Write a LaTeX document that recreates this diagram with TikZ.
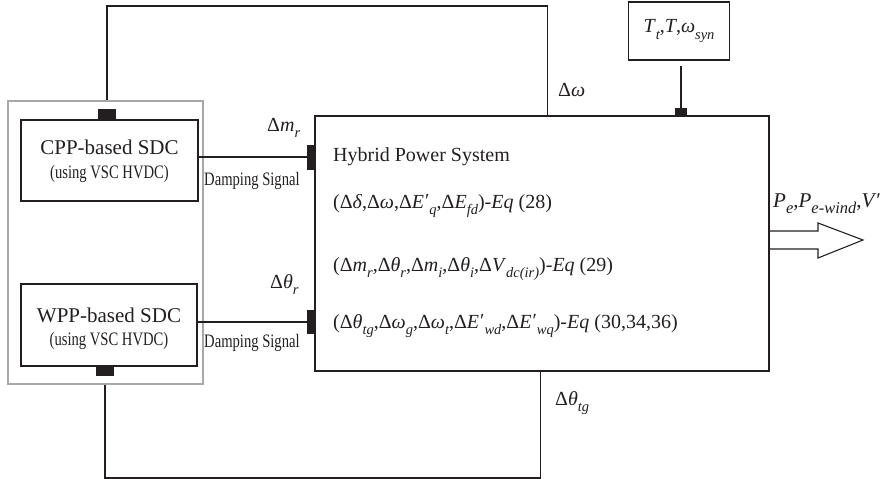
\documentclass[tikz,border=0pt]{standalone}
\usepackage{fontspec}
\setmainfont{Liberation Serif}
\newfontfamily\condfont[FakeStretch=0.77]{Liberation Serif}
\usetikzlibrary{calc}
\definecolor{ink}{HTML}{231F20}
\definecolor{frame}{HTML}{A8A8A8}
\newcommand\sbs[1]{\raisebox{-0.32em}{\fontsize{14.5}{14}\selectfont\itshape #1}}
\newcommand\sbb[1]{\raisebox{-0.32em}{\fontsize{16.5}{16}\selectfont\itshape #1}}
\newcommand\pr{\kern0.05em\raisebox{0.05em}{′}}
\begin{document}
\begin{tikzpicture}[x=1pt,y=-1pt,font=\fontsize{20}{24}\selectfont,
  block/.style={draw=ink,line width=1.2pt,inner sep=0pt,text=ink},
  port/.style={fill=ink,draw=none,inner sep=0pt},
  wire/.style={draw=ink,line width=1.1pt},
  sigwire/.style={draw=ink,line width=1.8pt},
  lbl/.style={text=ink,inner sep=0pt},
  big/.style={text=ink,inner sep=0pt,font=\fontsize{21}{24}\selectfont},
  cond/.style={text=ink,inner sep=0pt,font=\condfont\fontsize{19}{20}\selectfont}]
\useasboundingbox (0,0) rectangle (887,479);

% outer grey frame
\node[draw=frame,line width=1.4pt,minimum width=195pt,minimum height=283pt,inner sep=0pt] (outer) at (105.5,242.5) {};

% blocks
\node[block,minimum width=177pt,minimum height=81pt] (cpp) at (109.5,160.5) {};
\node[big,anchor=base] (cppt) at (109.5,154) {CPP-based SDC};
\node[cond,anchor=base] (cpps) at (109.5,178) {(using VSC HVDC)};

\node[block,minimum width=176pt,minimum height=82pt] (wpp) at (109,325) {};
\node[big,anchor=base] (wppt) at (109,322) {WPP-based SDC};
\node[cond,anchor=base] (wpps) at (109,345) {(using VSC HVDC)};

\node[block,minimum width=454pt,minimum height=255pt] (hps) at (542,243.5) {};
\node[lbl,anchor=base west] (h0) at (333,161) {Hybrid Power System};
\node[lbl,anchor=base west] (h1) at (333,208) {(Δ\textit{δ},Δ\textit{ω},Δ\textit{E}\pr\sbs{q},Δ\textit{E}\sbs{fd})-\textit{Eq} (28)};
\node[lbl,anchor=base west] (h2) at (333,271) {(Δ\textit{m}\sbs{r},Δ\textit{θ}\sbs{r},Δ\textit{m}\sbs{i},Δ\textit{θ}\sbs{i},Δ\textit{V}\sbs{dc(ir)})-\textit{Eq} (29)};
\node[lbl,anchor=base west] (h3) at (333,328) {(Δ\textit{θ}\sbs{tg},Δ\textit{ω}\sbs{g},Δ\textit{ω}\sbs{t},Δ\textit{E}\pr\sbs{wd},Δ\textit{E}\pr\sbs{wq})-\textit{Eq} (30,34,36)};

\node[block,minimum width=101pt,minimum height=58pt] (tbox) at (679,31) {\textit{T}\sbs{t},\textit{T},\textit{ω}\sbs{syn}};

% ports
\node[port,minimum width=18pt,minimum height=11pt,anchor=south] (cppq) at (107,120) {};
\node[port,minimum width=18pt,minimum height=10pt,anchor=north] (wppq) at (105,366) {};
\node[port,minimum width=8pt,minimum height=25pt,anchor=east] (hq1) at (315,157) {};
\node[port,minimum width=8pt,minimum height=24pt,anchor=east] (hq2) at (315,322) {};
\node[port,minimum width=12pt,minimum height=8pt,anchor=south] (hq3) at (681,116) {};

% connectors
\draw[wire] (cppq.north |- outer.north) -- (cppq.north |- 0,6) -| ($(hps.north west)+(233,0)$);
\draw[wire] (wppq.south |- outer.south) -- (wppq.south |- 0,478) -| ($(hps.south west)+(226,0)$);
\draw[wire,line width=1.6pt] (hq3.north |- 0,66) -- (hq3.north);
\draw[sigwire] (cpp.east |- hq1.west) -- (hq1.west);
\draw[sigwire] (wpp.east |- hq2.west) -- (hq2.west);

% output arrow
\draw[wire,line join=miter] (hps.east |- 0,231) -- (818,231) -- (818,223) -- (863,240) -- (818,258) -- (818,249) -- (hps.east |- 0,249);

% labels
\node[lbl,anchor=base west] (dmr) at (267,131) {Δ\textit{m}\sbs{r}};
\node[lbl,anchor=base west] (dtr) at (270,288) {Δ\textit{θ}\sbs{r}};
\node[lbl,anchor=base west] (dw) at (558,96) {Δ\textit{ω}};
\node[lbl,anchor=base west] (dtg) at (555,405) {Δ\textit{θ}\sbs{tg}};
\node[big,anchor=base west] (pout) at (773,207) {\textit{P}\sbb{e},\textit{P}\sbb{e-wind},\textit{V}′};
\node[cond,anchor=base west] (ds1) at (204,185) {Damping Signal};
\node[cond,anchor=base west] (ds2) at (204,347) {Damping Signal};
\end{tikzpicture}
\end{document}
